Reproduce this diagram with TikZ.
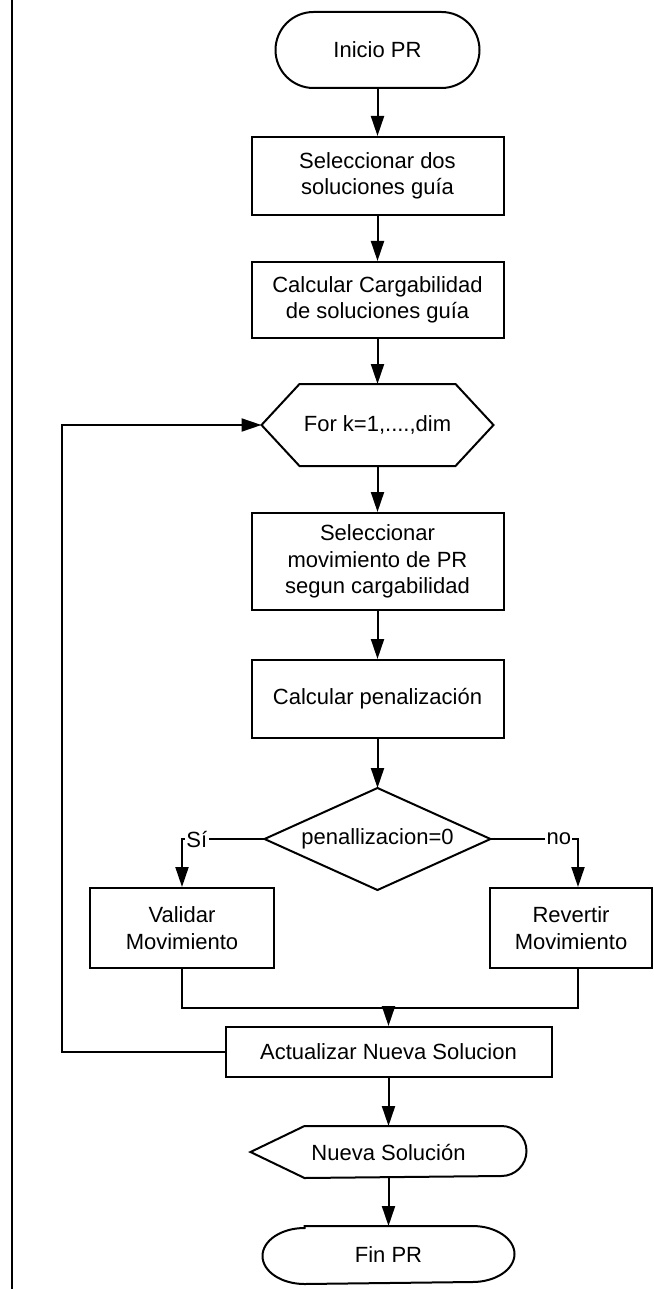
\documentclass[tikz,border=0pt]{standalone}
\usepackage{fontspec}
\setmainfont{Liberation Sans}
\usetikzlibrary{arrows.meta,calc,shapes.misc}
\begin{document}
\begin{tikzpicture}[x=1pt,y=-1pt, line width=2pt,
  font=\fontsize{22}{26.5}\selectfont,
  box/.style={draw, rectangle, inner sep=0pt, align=center},
  ghost/.style={rectangle, inner sep=0pt, align=center},
  arr/.style={-{Triangle[length=20pt,width=13pt]}},
  lbl/.style={fill=white, inner sep=1.5pt}]
\useasboundingbox (0,0) rectangle (653,1289);
\draw[line width=1.5pt] (12,0) -- (12,1289);

\node[draw, rounded rectangle, minimum width=204pt, minimum height=76pt, inner sep=0pt] (start) at (377.5,50) {Inicio PR};
\node[box, minimum width=252pt, minimum height=78pt] (s1) at (377.5,176) {Seleccionar dos\\soluciones guía};
\node[box, minimum width=252pt, minimum height=76pt] (s2) at (377.5,300) {Calcular Cargabilidad\\de soluciones guía};
\node[ghost, minimum width=230pt, minimum height=80pt] (hex) at (377.5,425) {For k=1,....,dim};
\draw (hex.west) -- ($(hex.north west)+(38,0)$) -- ($(hex.north east)+(-38,0)$) -- (hex.east)
  -- ($(hex.south east)+(-38,0)$) -- ($(hex.south west)+(38,0)$) -- cycle;
\node[box, minimum width=252pt, minimum height=97pt] (s3) at (377.5,561.5) {Seleccionar\\movimiento de PR\\segun cargabilidad};
\node[box, minimum width=252pt, minimum height=78pt] (s4) at (377.5,699) {Calcular penalización};
\node[ghost, minimum width=224pt, minimum height=100pt] (dia) at (377.5,839) {penallizacion=0};
\draw (dia.north) -- (dia.east) -- (dia.south) -- (dia.west) -- cycle;
\node[box, minimum width=184pt, minimum height=80pt] (val) at (182,928) {Validar\\Movimiento};
\node[box, minimum width=162pt, minimum height=80pt] (rev) at (571,928) {Revertir\\Movimiento};
\node[box, minimum width=326pt, minimum height=50pt] (act) at (388.5,1052) {Actualizar Nueva Solucion};
\node[ghost, minimum width=274pt, minimum height=50pt] (out) at (388.5,1152) {Nueva Solución};
\draw (out.west) -- ($(out.north west)+(54,0)$) -- ($(out.north east)+(-25,0)$)
  arc[start angle=-90, end angle=90, x radius=25, y radius=25]
  -- ($(out.south west)+(54,0)$) -- cycle;
\node[ghost, minimum width=250pt, minimum height=56pt] (fin) at (388.5,1255) {Fin PR};
\draw ($(fin.north west)+(42,0)$) -- ($(fin.north east)+(-42,0)$)
  arc[start angle=-90, end angle=90, x radius=42, y radius=28]
  -- ($(fin.south west)+(42,0)$)
  arc[start angle=90, end angle=270, x radius=42, y radius=28] -- cycle;

\draw[arr] (start.south) -- (s1.north);
\draw[arr] (s1.south) -- (s2.north);
\draw[arr] (s2.south) -- (hex.north);
\draw[arr] (hex.south) -- (s3.north);
\draw[arr] (s3.south) -- (s4.north);
\draw[arr] (s4.south) -- (dia.north);
\draw[arr] (dia.west) -| node[lbl, pos=0.41] {Sí} (val.north);
\draw[arr] (dia.east) -| node[lbl, pos=0.39] {no} ([xshift=7pt]rev.north);
\coordinate (m) at (388.5,1008);
\draw (val.south) |- (m) -| ([xshift=7pt]rev.south);
\draw[arr] (m) -- (act.north);
\draw[arr] (act.west) -- ++(-163,0) |- (hex.west);
\draw[arr] (act.south) -- (out.north);
\draw[arr] (out.south) -- (fin.north);
\end{tikzpicture}
\end{document}
